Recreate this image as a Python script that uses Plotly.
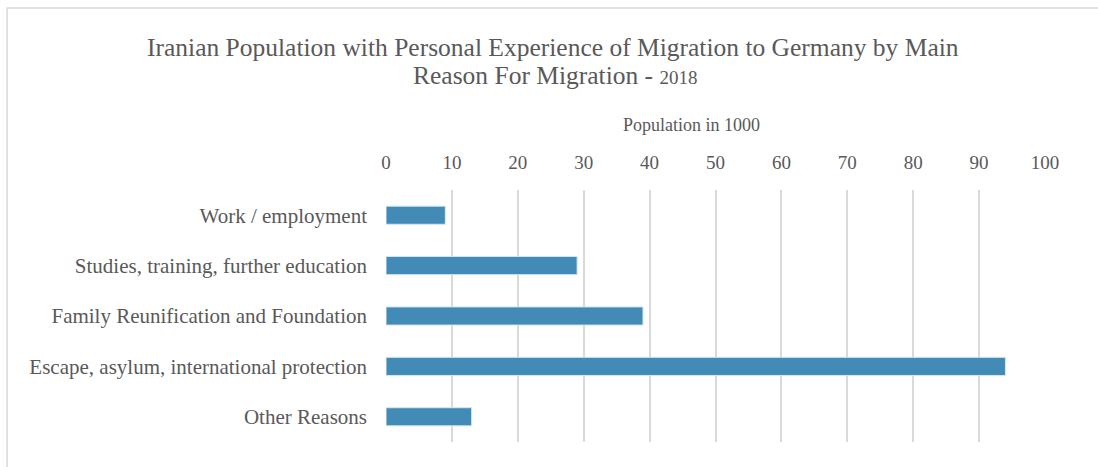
import plotly.graph_objects as go

# Main reasons for migration (top to bottom) and population in thousands
reasons = [
    "Work / employment",
    "Studies, training, further education",
    "Family Reunification and Foundation",
    "Escape, asylum, international protection",
    "Other Reasons",
]
population_k = [9, 29, 39, 94, 13]
tick_values = [0, 10, 20, 30, 40, 50, 60, 70, 80, 90, 100]

title_line1 = "Iranian Population with Personal Experience of Migration to Germany by Main"
title_line2 = "Reason For Migration - <span style='font-size:19px'>2018</span>"
axis_title = "Population in 1000"

TEXT = "#595959"
FONT = "Liberation Serif"

fig = go.Figure(
    go.Bar(
        x=population_k,
        y=reasons,
        orientation="h",
        marker=dict(color="#428BB6", line=dict(color="#D6E6F2", width=1)),
        width=0.36,
        hoverinfo="x+y",
    )
)

fig.update_layout(
    width=1098,
    height=467,
    margin=dict(l=386, r=53, t=190, b=25),
    paper_bgcolor="white",
    plot_bgcolor="white",
    showlegend=False,
    font=dict(family=FONT, color=TEXT),
    xaxis=dict(
        side="top",
        range=[0, 100],
        tickvals=tick_values,
        ticktext=[str(v) for v in tick_values],
        tickfont=dict(family=FONT, size=19, color=TEXT),
        showgrid=True,
        gridcolor="#D9D9D9",
        gridwidth=1.5,
        zeroline=False,
        showline=False,
        ticks="",
        ticklabelstandoff=16,
        fixedrange=True,
    ),
    yaxis=dict(
        categoryorder="array",
        categoryarray=reasons,
        autorange="reversed",
        tickfont=dict(family=FONT, size=21, color=TEXT),
        ticks="",
        ticklabelstandoff=18,
        showgrid=False,
        showline=False,
        zeroline=False,
        fixedrange=True,
    ),
    annotations=[
        dict(text=title_line1, xref="paper", yref="paper", x=0.2527, y=1.567,
             xanchor="center", yanchor="middle", showarrow=False,
             font=dict(family=FONT, size=25.5, color=TEXT)),
        dict(text=title_line2, xref="paper", yref="paper", x=0.257, y=1.456,
             xanchor="center", yanchor="middle", showarrow=False,
             font=dict(family=FONT, size=25.5, color=TEXT)),
        dict(text=axis_title, xref="paper", yref="paper", x=0.463, y=1.258,
             xanchor="center", yanchor="middle", showarrow=False,
             font=dict(family=FONT, size=18, color=TEXT)),
    ],
    shapes=[
        # chart frame (top and left edges visible)
        dict(
            type="rect",
            xref="paper",
            yref="paper",
            x0=-0.575,
            x1=1.2,
            y0=-0.2,
            y1=1.722,
            line=dict(color="#D9D9D9", width=1.5),
            fillcolor="rgba(0,0,0,0)",
            layer="below",
        )
    ],
)

fig.write_html("out.html")
